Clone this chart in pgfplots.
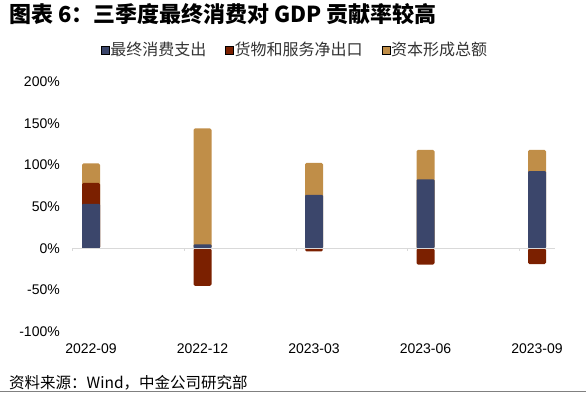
\documentclass[border=0pt]{standalone}
\usepackage{pgfplots}
\pgfplotsset{compat=1.18}
\usepackage{fontspec}
\setmainfont{Liberation Sans}
\newfontfamily\cjk{Noto Sans CJK SC}
\definecolor{cBlue}{HTML}{3B466B}
\definecolor{cBrown}{HTML}{7B2000}
\definecolor{cGold}{HTML}{C08E48}
\definecolor{cGrid}{HTML}{D9D9D9}
\begin{document}
\begin{tikzpicture}[x=1pt,y=1pt]
\path[use as bounding box] (0,0) rectangle (586,392);
\node[anchor=west, inner sep=0pt, font=\cjk\bfseries\fontsize{22}{22}\selectfont] at (9,378) {图表 6：三季度最终消费对 GDP 贡献率较高};
\node[anchor=west, inner sep=0pt, font=\cjk\fontsize{15.5}{15.5}\selectfont] at (9,9.5) {资料来源：Wind，中金公司研究部};
\draw[gray, line width=1.2pt] (0,0.6) -- (586,0.6);
\begin{axis}[
  at={(72pt,60.3pt)}, anchor=south west,
  scale only axis, width=483pt, height=250pt,
  xmin=72, xmax=555, ymin=-100, ymax=200,
  axis line style={draw=none},
  major tick length=0pt,
  xtick={91,202.5,314,425.5,537},
  xticklabels={2022-09,2022-12,2023-03,2023-06,2023-09},
  xticklabel style={anchor=center, yshift=-17.3pt, font=\fontsize{14}{14}\selectfont},
  ytick={-100,-50,0,50,100,150,200},
  yticklabels={-100\%,-50\%,0\%,50\%,100\%,150\%,200\%},
  yticklabel style={anchor=east, inner sep=0pt, xshift=-12pt, font=\fontsize{14}{14}\selectfont},
  legend style={at={(0.4607,1.127)}, anchor=center, draw=none, fill=none,
    font=\cjk\fontsize{16}{16}\selectfont, text=black!80, inner sep=0pt,
    nodes={inner sep=1pt},
    /tikz/every even column/.append style={column sep=18pt}},
  legend columns=3,
  legend image code/.code={\fill[#1] (0pt,-4pt) rectangle (8pt,4pt);},
]
\addlegendimage{fill=cBlue}
\addlegendentry{最终消费支出}
\addlegendimage{fill=cBrown}
\addlegendentry{货物和服务净出口}
\addlegendimage{fill=cGold}
\addlegendentry{资本形成总额}
% gold: top of the positive stack (consumption + net exports + capital formation)
\addplot[ybar, bar width=18pt, bar shift=0pt, fill=cGold, draw=none, rounded corners=1.5pt, forget plot]
  coordinates {(91,102) (202.5,144) (314,102.7) (425.5,118.3) (537,118.3)};
% brown: net exports (positive part stacked on consumption in 2022-09)
\addplot[ybar, bar width=18pt, bar shift=0pt, fill=cBrown, draw=none, rounded corners=1.5pt, forget plot]
  coordinates {(91,78.7) (202.5,-45) (314,-3.5) (425.5,-19.5) (537,-19)};
% blue: final consumption
\addplot[ybar, bar width=18pt, bar shift=0pt, fill=cBlue, draw=none, rounded corners=1pt, forget plot]
  coordinates {(91,53.5) (202.5,4.8) (314,64.3) (425.5,82.8) (537,92.8)};
\draw[cGrid, line width=0.8pt] (axis cs:72,0) -- (axis cs:555,0);
\draw[cGrid, line width=0.8pt] (axis cs:72,0) -- ++(0pt,-3pt);
\draw[cGrid, line width=0.8pt] (axis cs:184,0) -- ++(0pt,-3pt);
\draw[cGrid, line width=0.8pt] (axis cs:296,0) -- ++(0pt,-3pt);
\draw[cGrid, line width=0.8pt] (axis cs:407.5,0) -- ++(0pt,-3pt);
\draw[cGrid, line width=0.8pt] (axis cs:519,0) -- ++(0pt,-3pt);
\end{axis}
\end{tikzpicture}
\end{document}
